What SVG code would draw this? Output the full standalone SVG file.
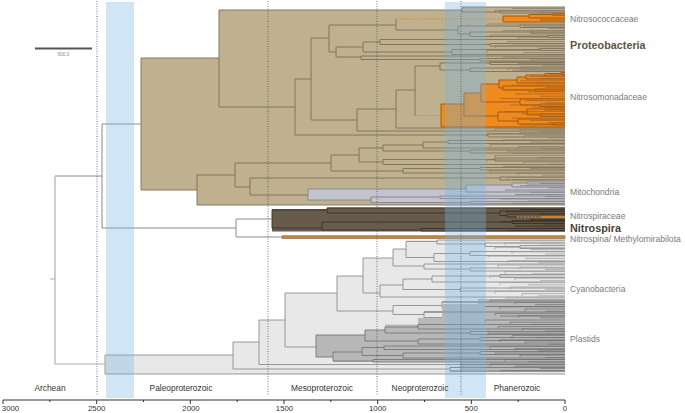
<svg xmlns="http://www.w3.org/2000/svg" width="685" height="413" viewBox="0 0 685 413">
<style>
.lbl{font-family:"Liberation Sans",Arial,sans-serif;font-size:8.6px;fill:#7a7a7a}
.big{font-family:"Liberation Sans",Arial,sans-serif;font-size:10.8px;font-weight:bold}
.eon{font-family:"Liberation Sans",Arial,sans-serif;font-size:8.4px;fill:#333;text-anchor:middle}
.tk{font-family:"Liberation Sans",Arial,sans-serif;font-size:7.8px;fill:#333;text-anchor:middle}
.ts{fill:none;stroke:#7d715c;stroke-width:.9}
.tt{fill:none;stroke:#85796450;stroke:#857964;stroke-width:.7}
.os{fill:none;stroke:#9a5514;stroke-width:.9}
.ot{fill:none;stroke:#a85e18;stroke-width:.7}
.od{fill:none;stroke:#e8841e;stroke-width:1;stroke-dasharray:2 1.5}
.ms{fill:none;stroke:#85858f;stroke-width:.9}
.ns{fill:none;stroke:#3a3128;stroke-width:.9}
.cs{fill:none;stroke:#8f8f8f;stroke-width:.9}
.ct{fill:none;stroke:#9c9c9c;stroke-width:.7}
.ps{fill:none;stroke:#777;stroke-width:.9}
.pt{fill:none;stroke:#707070;stroke-width:.7}
.rs{fill:none;stroke:#8a8a8a;stroke-width:1}
.rl{fill:none;stroke:#b0b0b0;stroke-width:1.2}
.dot{stroke:#555;stroke-width:.8;stroke-dasharray:1 1.5}
.band{fill:rgb(120,180,225);fill-opacity:.35}
</style>

<g id="proteobacteria">
<path d="M565 7H462V10H219V58H141V190H197V205H565Z" fill="#bfb08e"/>
<path class="ts" d="M219 58H141V190H197M462 10H219V107H295M565 7H462V12H500M565 11H500V13H565M311 79H295V135H488M329 38H311V120H357M396 25H329V52H336M396 19V30H458M520 26H458V34H470M565 25H520V27.5H565M531 32H470V36.5H548M565 31H531V33H565M565 35.5H548V37.5H565M363 47H336V57H361M380 42H363V52H452M565 39.5H380V44.5H490M565 43.5H490V46H565M540 49.5H452V54.5H565M565 48.5H540V50.5H565M565 56H361V59.5H480M565 58.5H480V61H565M396 109H357V131H520M565 130H520V132H565M415 90H396V128H565M440 66H415V115.5M490 63H440V70H470M565 62.5H490V64.5H565M520 68H470V71.5H565M565 67H520V69H565M565 134H488V137H565M235 175H197V205H565M331 163H235V187H250M359 155H331V171H403M383 148H359V162H383M423 145H383V151H470M448 142H423V148H565M565 140.5H448V143.5H565M565 150H470V153H565M495 159.5H383V164.5H565M565 158H495V161H565M480 168.5H403V173H565M565 167.5H480V170H565M500 178H250V195H308M565 177H500V180H565"/>
<path class="tt" d="M512 8.5H565M495 10.5H565M538 12.5H565M487 24H565M524 26.2H565M548 28.4H565M503 30.6H565M530 32.8H565M490 35H565M518 37.2H565M542 39.4H565M508 41.6H565M512 43.8H565M495 46H565M538 48.2H565M487 50.4H565M524 52.6H565M548 54.8H565M503 57H565M530 59.2H565M490 61.4H565M518 63.6H565M542 65.8H565M508 68H565M512 70.2H565M495 129H565M538 131.2H565M487 133.4H565M524 135.6H565M548 137.8H565M503 140H565M530 142.2H565M490 144.4H565M518 146.6H565M542 148.8H565M508 151H565M512 153.2H565M495 155.4H565M538 157.6H565M487 159.8H565M524 162H565M548 164.2H565M503 166.4H565M530 168.6H565M490 170.8H565M518 173H565M542 175.2H565M508 177.4H565M512 179.6H565M495 10.5V12.5M487 24V26.2M524 26.2V28.4M503 30.6V32.8M490 35V37.2M518 37.2V39.4M508 41.6V43.8M495 46V48.2M487 50.4V52.6M524 52.6V54.8M503 57V59.2M490 61.4V63.6M518 63.6V65.8M508 68V70.2M495 129V131.2M487 133.4V135.6M524 135.6V137.8M503 140V142.2M490 144.4V146.6M518 146.6V148.8M508 151V153.2M495 155.4V157.6M487 159.8V162M524 162V164.2M503 166.4V168.6M490 170.8V173M518 173V175.2M508 177.4V179.6"/>
</g>

<g id="nitrosococcaceae">
<path d="M565 13.8H553V14.5H529V16H503V22H565Z" fill="#f08a1c"/>
<path class="od" d="M396 19H503"/>
<path class="os" d="M529 16H503V22H565M553 14.5H529V18H565M565 13.8H553V15.2H565M540 20H565"/>
</g>

<g id="nitrosomonadaceae">
<path d="M565 72.5H561V73.5H545V75H526V77H517V80H499V84H481V93H464V104H441V127H565Z" fill="#f08a1c"/>
<path class="od" d="M415 115.5H441"/>
<path class="os" d="M464 104H441V127H565M481 93H464V116H498M499 84H481V102H520M517 80H499V88H503M526 77H517V83H565M545 75H526V79H565M561 73.5H545V76H565M565 72.5H561V74.5H565M565 86H503V90H535M565 89H535V91H565M565 99H520V105H540M565 104H540V106.5H565M527 112H498V121H518M545 109H527V115H540M565 108H545V110H565M565 114H540V116.5H565M565 119H518V124H553M565 123H553V125H565"/>
<path class="ot" d="M548 74.2H565M530 76.4H565M540 78.6H565M520 80.8H565M535 83H565M512 85.2H565M545 87.4H565M505 89.6H565M528 91.8H565M515 94H565M540 96.2H565M500 98.4H565M525 100.6H565M545 102.8H565M510 105H565M532 107.2H565M548 109.4H565M505 111.6H565M522 113.8H565M540 116H565M512 118.2H565M530 120.4H565M548 122.6H565M520 124.8H565"/>
</g>

<g id="mitochondria">
<path d="M565 182H527V183H512V185H466V189H308V200H371V202.5H470V203.5H565Z" fill="#c4c4cc"/>
<path class="ms" d="M466 189H308V200H371M512 185H466V192H565M527 183H512V187H565M565 182H527V184H565M440 197H371V202.5H470M565 196H440V198.5H565M565 201.5H470V203.5H565M540 183.5H565M520 185.7H565M548 187.9H565M505 190.1H565M530 192.3H565M515 194.5H565M545 196.7H565M500 198.9H565M528 201.1H565M512 203.3H565"/>
</g>

<g id="nitrospira">
<path d="M565 207.5H327V209H272V231.5H565Z" fill="#675b4b"/>
<path class="ns" d="M327 210H272V228H322M565 208H327V213H500M565 211H500V215.5H507M565 214H507V217H517M512 222H322V230H421M565 220.5H512V223.5H565M565 228.5H421V231H565M520 209.5H565M505 211.7H565M540 213.9H565M530 219.5H565M500 221.7H565M545 223.9H565M515 226.1H565M535 228.3H565M508 230.5H565"/>
<path class="od" d="M517 217H541"/>
<path d="M541 217H565" stroke="#f08a1c" stroke-width="1.6"/>
</g>

<g id="nitrospina">
<rect x="282" y="235.8" width="283" height="2.6" fill="#c8863c" stroke="#7d5c38" stroke-width=".6"/>
</g>

<g id="cyanobacteria">
<path d="M565 240H406V249H393V258H363V276H337V293H285V320H259V342H233V355H105V374H565Z" fill="#e8e8e8"/>
<path class="cs" d="M233 355H105V374H565M259 342H233V369H450M565 367.5H450V371H565M285 320H259V364.5H565M337 293H285V347H316M363 276H337V311H393M393 258H363V293H380M406 249H393V266H424M437 241.5H406V257.5H434M565 240H437V244H485M565 243H485V246.5H520M565 245.5H520V248.5H565M470 253.5H434V261.5H565M565 251.5H470V255.5H565M565 264H424V269H470M565 268H470V271H565M403 285H380V297H565M432 279H403V289.5H460M500 276H432V282H565M565 274.5H500V277.5H565M565 288H460V291H565M442 305.5H393V314.5H424M565 302H442V308H485M565 306.5H485V310H565M565 312H424V317.5H500M565 316H500V319.5H565"/>
<path class="ct" d="M520 240.8H565M505 243H565M540 245.2H565M495 247.4H565M530 249.6H565M512 251.8H565M545 254H565M488 256.2H565M525 258.4H565M508 260.6H565M538 262.8H565M498 265H565M520 267.2H565M545 269.4H565M505 271.6H565M532 273.8H565M490 276H565M515 278.2H565M540 280.4H565M500 282.6H565M528 284.8H565M510 287H565M545 289.2H565M495 291.4H565M522 293.6H565M538 295.8H565M505 298H565M505 243V245.2M495 247.4V249.6M512 251.8V254M488 256.2V258.4M508 260.6V262.8M498 265V267.2M520 267.2V269.4M505 271.6V273.8M490 276V278.2M515 278.2V280.4M500 282.6V284.8M510 287V289.2M495 291.4V293.6M522 293.6V295.8"/>
</g>

<g id="plastids">
<path d="M565 299H478V304H442V318H418V324.5H385V330H365V335H316V357H333V362H460V372H565Z" fill="#b8b8b8"/>
<path class="ps" d="M365 335H316V357H333M385 330H365V341H418M418 327H385V333H470M565 324.5H418V329H565M565 331.5H470V334.5H565M480 339H418V344H565M565 337.5H480V340.5H565M362 352H333V361H373M384 347.5H362V355.5H403M565 346H384V349.5H565M480 353H403V358H565M565 351.5H480V354.5H565M565 359.5H373V362H565M565 302H442M565 306.5H485M565 312H424M565 316H500M565 364.5H460M565 367.5H450M565 371H450"/>
<path class="pt" d="M490 300.2H565M515 302.4H565M535 304.6H565M500 306.8H565M525 309H565M545 311.2H565M495 313.4H565M518 315.6H565M540 317.8H565M485 320H565M510 322.2H565M530 324.4H565M498 326.6H565M522 328.8H565M545 331H565M488 333.2H565M512 335.4H565M535 337.6H565M500 339.8H565M525 342H565M548 344.2H565M490 346.4H565M515 348.6H565M538 350.8H565M495 353H565M520 355.2H565M545 357.4H565M505 359.6H565M528 361.8H565M490 364H565M515 366.2H565M540 368.4H565M500 370.6H565M490 300.2V302.4M515 302.4V304.6M500 306.8V309M525 309V311.2M495 313.4V315.6M518 315.6V317.8M485 320V322.2M510 322.2V324.4M498 326.6V328.8M522 328.8V331M488 333.2V335.4M512 335.4V337.6M500 339.8V342M525 342V344.2M490 346.4V348.6M515 348.6V350.8M495 353V355.2M520 355.2V357.4M505 359.6V361.8M490 364V366.2M515 366.2V368.4"/>
</g>

<g id="connectors">
<path class="rs" d="M141 124H102V228H236M55 176H102M272 219H236V237H282"/>
<path class="rl" d="M50 279H55M55 176V364H105"/>
</g>

<g id="bands">
<rect class="band" x="106" y="2" width="28" height="396"/>
<rect class="band" x="445" y="2" width="41" height="396"/>
</g>

<g id="boundaries">
<line class="dot" x1="97" y1="1" x2="97" y2="396"/>
<line class="dot" x1="268" y1="1" x2="268" y2="396"/>
<line class="dot" x1="377" y1="1" x2="377" y2="396"/>
<line class="dot" x1="461" y1="1" x2="461" y2="396"/>
</g>

<g id="scalebar">
<line x1="35" y1="48.5" x2="92" y2="48.5" stroke="#555" stroke-width="2"/>
<text x="63.5" y="56" font-family="Liberation Sans, Arial, sans-serif" font-size="4.6" fill="#888" text-anchor="middle">500.0</text>
</g>

<g id="axis">
<path d="M3 400H565" stroke="#333" stroke-width="1.2" fill="none"/>
<path d="M3 400V404M96.7 400V404M190.3 400V404M284 400V404M377.7 400V404M471.3 400V404M565 400V404M49.8 400V402M143.5 400V402M237.2 400V402M330.8 400V402M424.5 400V402M518.2 400V402" stroke="#333" stroke-width="1" fill="none"/>
<text class="tk" x="10.5" y="410.5">3000</text>
<text class="tk" x="96.7" y="410.5">2500</text>
<text class="tk" x="191" y="410.5">2000</text>
<text class="tk" x="284.5" y="410.5">1500</text>
<text class="tk" x="377.7" y="410.5">1000</text>
<text class="tk" x="471.3" y="410.5">500</text>
<text class="tk" x="565" y="410.5">0</text>
<text class="eon" x="50" y="391">Archean</text>
<text class="eon" x="181" y="391">Paleoproterozoic</text>
<text class="eon" x="322" y="391">Mesoproterozoic</text>
<text class="eon" x="420" y="391">Neoproterozoic</text>
<text class="eon" x="517" y="391">Phanerozoic</text>
</g>

<g id="labels">
<text class="lbl" x="570" y="22">Nitrosococcaceae</text>
<text class="big" x="570" y="49" fill="#5f5443">Proteobacteria</text>
<text class="lbl" x="570" y="100">Nitrosomonadaceae</text>
<text class="lbl" x="570" y="195">Mitochondria</text>
<text class="lbl" x="570" y="218.5">Nitrospiraceae</text>
<text class="big" x="570" y="231.5" fill="#4d4235">Nitrospira</text>
<text class="lbl" x="570" y="241.5">Nitrospina/ Methylomirabilota</text>
<text class="lbl" x="570" y="292">Cyanobacteria</text>
<text class="lbl" x="570" y="342">Plastids</text>
</g>
</svg>
